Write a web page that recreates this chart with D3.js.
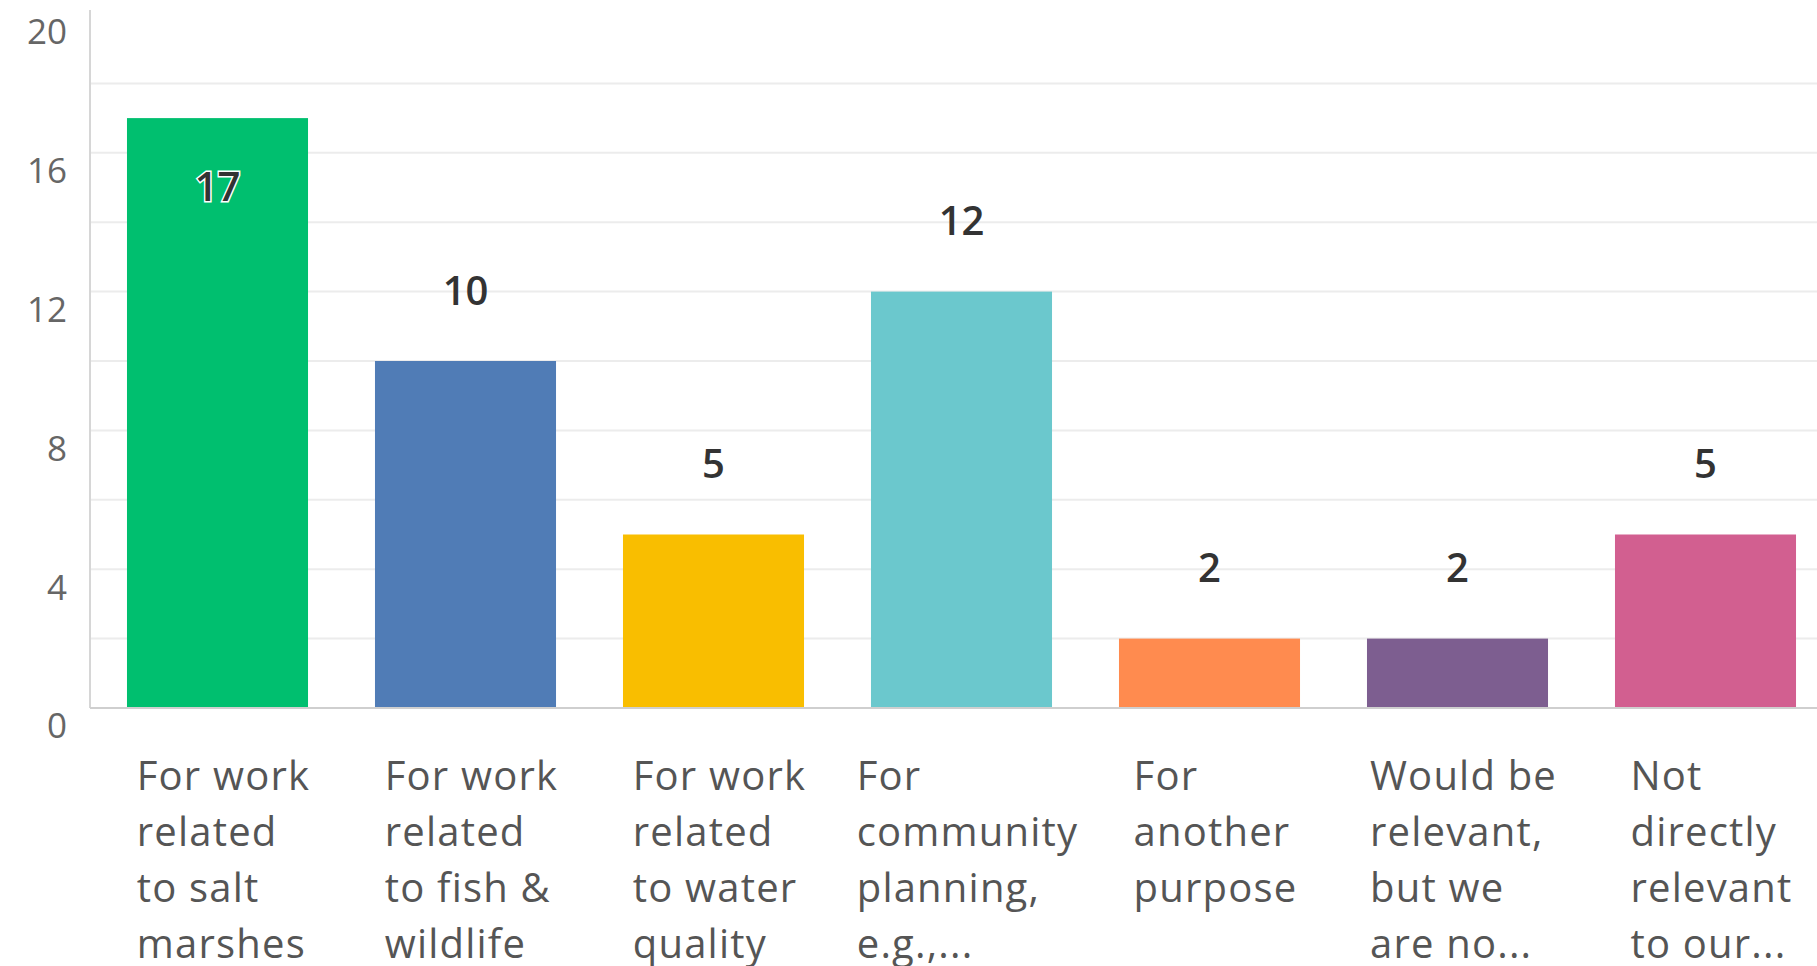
<!DOCTYPE html>
<html>
<head>
<meta charset="utf-8">
<script src="https://cdn.jsdelivr.net/npm/d3@7"></script>
<style>
  body { margin: 0; background: #fff; }
  svg { display: block; font-family: 'Open Sans', sans-serif; }
</style>
</head>
<body>
<div id="root"></div>
<script>
const categories = [
  'For work related to salt marshes',
  'For work related to fish & wildlife',
  'For work related to water quality',
  'For community planning, e.g.,...',
  'For another purpose',
  'Would be relevant, but we are no...',
  'Not directly relevant to our...'
]
const labelLines = [
  ['For work', 'related', 'to salt', 'marshes'],
  ['For work', 'related', 'to fish &', 'wildlife'],
  ['For work', 'related', 'to water', 'quality'],
  ['For', 'community', 'planning,', 'e.g.,...'],
  ['For', 'another', 'purpose'],
  ['Would be', 'relevant,', 'but we', 'are no...'],
  ['Not', 'directly', 'relevant', 'to our...']
]
const values = [17, 10, 5, 12, 2, 2, 5]
const colors = ['#00bf6f', '#507cb6', '#f9be00', '#6bc8cd', '#ff8b4f', '#7d5e90', '#d25f90']
const yTicks = [0, 4, 8, 12, 16, 20]

const graph = { width: 1817, height: 966 }

const svg = d3.select('#root')
  .append('svg')
  .attr('width', graph.width)
  .attr('height', graph.height)

const scaleX = d3.scaleBand()
  .domain(categories)
  .range([93.5, 93.5 + 248 * categories.length])
  .paddingInner(0.27)
  .paddingOuter(0.135)

const scaleY = d3.scaleLinear()
  .domain([0, 20])
  .range([708, 14])

// grid lines
svg.append('g')
  .selectAll('line')
  .data(scaleY.ticks(10).filter(d => d > 0 && d < 20))
  .join('line')
  .attr('x1', 90)
  .attr('x2', graph.width)
  .attr('y1', d => scaleY(d))
  .attr('y2', d => scaleY(d))
  .attr('stroke', '#ececec')
  .attr('stroke-width', 2)

// y axis line
svg.append('line')
  .attr('x1', 90).attr('x2', 90)
  .attr('y1', 10).attr('y2', scaleY(0))
  .attr('stroke', '#d6d6d6')
  .attr('stroke-width', 2)

// y labels
svg.append('g')
  .selectAll('text')
  .data(yTicks)
  .join('text')
  .attr('x', 67)
  .attr('y', d => scaleY(d) + 21)
  .attr('text-anchor', 'end')
  .attr('dominant-baseline', 'middle')
  .attr('font-size', 35)
  .attr('fill', '#666')
  .text(d => d)

// bars
svg.append('g')
  .selectAll('rect')
  .data(values)
  .join('rect')
  .attr('x', (d, i) => scaleX(categories[i]))
  .attr('y', d => scaleY(d))
  .attr('width', scaleX.bandwidth())
  .attr('height', d => scaleY(0) - scaleY(d))
  .attr('fill', (d, i) => colors[i])

// baseline
svg.append('line')
  .attr('x1', 90).attr('x2', graph.width)
  .attr('y1', scaleY(0)).attr('y2', scaleY(0))
  .attr('stroke', '#cfcfcf')
  .attr('stroke-width', 2)

// value labels
const inside = d => scaleY(d) - 72 < 60
svg.append('g')
  .selectAll('text')
  .data(values)
  .join('text')
  .attr('x', (d, i) => scaleX(categories[i]) + scaleX.bandwidth() / 2)
  .attr('y', d => inside(d) ? scaleY(d) + 72 : scaleY(d) - 67)
  .attr('text-anchor', 'middle')
  .attr('dominant-baseline', 'middle')
  .attr('font-size', 40)
  .attr('font-weight', 600)
  .attr('fill', '#333')
  .attr('stroke', d => inside(d) ? '#fff' : 'none')
  .attr('stroke-width', 3)
  .attr('paint-order', 'stroke')
  .text(d => d)

// category labels
const catG = svg.append('g')
  .selectAll('text')
  .data(labelLines)
  .join('text')
  .attr('font-size', 40)
  .attr('letter-spacing', 1.2)
  .attr('fill', '#555')
  .attr('y', 790)

catG.selectAll('tspan')
  .data(d => d)
  .join('tspan')
  .attr('dy', (d, i) => i === 0 ? 0 : 56)
  .text(d => d)

catG.each(function (d, i) {
  const spans = d3.select(this).selectAll('tspan').nodes()
  const maxW = d3.max(spans, s => s.getComputedTextLength())
  const left = scaleX(categories[i]) + scaleX.bandwidth() / 2 - maxW / 2 + 6
  d3.select(this).selectAll('tspan').attr('x', left)
})
</script>
</body>
</html>
